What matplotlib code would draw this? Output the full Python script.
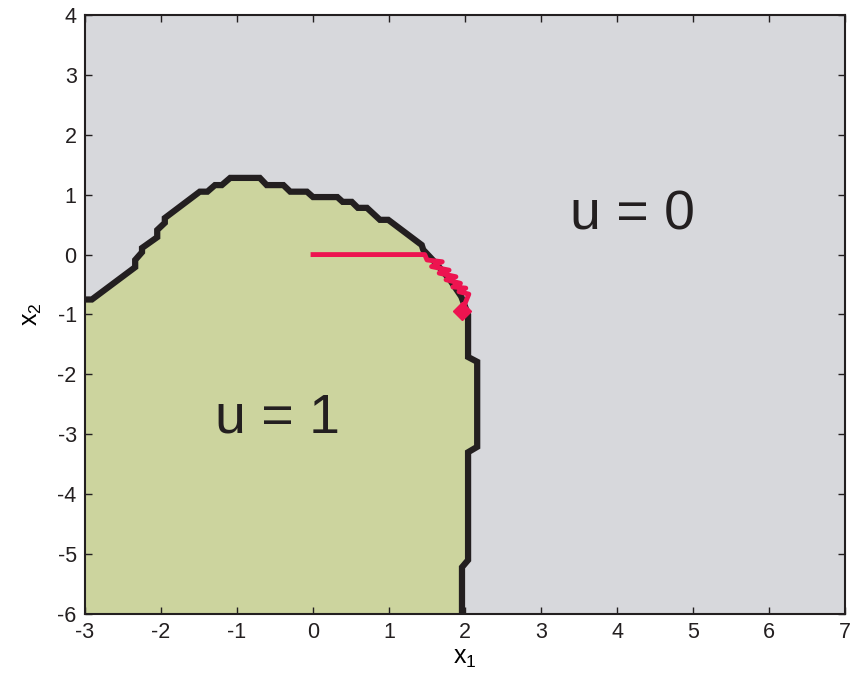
import matplotlib
matplotlib.use('Agg')
import matplotlib.pyplot as plt

plt.rcParams['font.family'] = 'Liberation Sans'
plt.rcParams['mathtext.fontset'] = 'custom'
plt.rcParams['mathtext.rm'] = 'Liberation Sans'
plt.rcParams['mathtext.it'] = 'Liberation Sans'
plt.rcParams['axes.unicode_minus'] = False

# switching curve between u = 1 and u = 0 (top-left to bottom)
curve_x = [-3.0, -2.91, -2.34, -2.34, -2.25, -2.25, -2.05, -2.05, -1.95, -1.95,
           -1.49, -1.39, -1.29, -1.20, -1.09, -0.70, -0.61, -0.39, -0.30, -0.08,
           0.0, 0.32, 0.39, 0.51, 0.59, 0.71, 0.88, 0.99, 1.43, 1.45,
           1.62, 1.80, 1.95, 2.04, 2.04, 2.16, 2.16, 2.04, 2.04, 1.96, 1.96]
curve_y = [-0.75, -0.75, -0.21, -0.09, 0.04, 0.11, 0.29, 0.41, 0.53, 0.61,
           1.05, 1.05, 1.16, 1.16, 1.28, 1.28, 1.16, 1.16, 1.05, 1.05,
           0.96, 0.96, 0.88, 0.88, 0.78, 0.78, 0.58, 0.58, 0.16, 0.08,
           -0.15, -0.42, -0.70, -1.0, -1.71, -1.79, -3.21, -3.30, -5.10, -5.22, -6.0]

# closed-loop trajectory from the origin
traj_x = [0.0, 1.47, 1.50, 1.70, 1.56, 1.79, 1.66, 1.88, 1.75, 1.94, 1.84,
          2.01, 1.92, 2.05, 1.96]
traj_y = [0.0, 0.0, -0.09, -0.12, -0.20, -0.26, -0.31, -0.37, -0.42, -0.48,
          -0.54, -0.56, -0.62, -0.66, -0.94]

gray = '#d7d8dc'
green = '#ccd49e'
black = '#231f20'
red = '#ed1450'

fig = plt.figure(figsize=(8.51, 6.87), dpi=100)
ax = fig.add_axes([0.0999, 0.1063, 0.8931, 0.8719])
ax.set_facecolor(gray)

ax.fill(curve_x + [-3.0], curve_y + [-6.0], color=green, zorder=1)
ax.plot(curve_x, curve_y, color=black, lw=4.5, solid_joinstyle='miter', zorder=2)
ax.plot(traj_x, traj_y, color=red, lw=3.5, zorder=3)
ax.plot(traj_x[-1], traj_y[-1], marker='D', ms=9, color=red, zorder=3)

ax.text(4.2, 0.66, 'u = 0', fontsize=40, ha='center', va='center', color=black)
ax.text(-0.47, -2.73, 'u = 1', fontsize=40, ha='center', va='center', color=black)

ax.set_xlim(-3, 7)
ax.set_ylim(-6, 4)
ax.set_xticks(range(-3, 8))
ax.set_yticks(range(-6, 5))
ax.tick_params(direction='in', length=5, width=1, top=True, right=True,
               labelsize=15.5, colors=black, pad=6)
for s in ax.spines.values():
    s.set_linewidth(1.5)
    s.set_color(black)

ax.set_xlabel('x$_1$', fontsize=18, labelpad=2)
ax.set_ylabel('x$_2$', fontsize=18, labelpad=10)

fig.savefig('out.png', dpi=100)
